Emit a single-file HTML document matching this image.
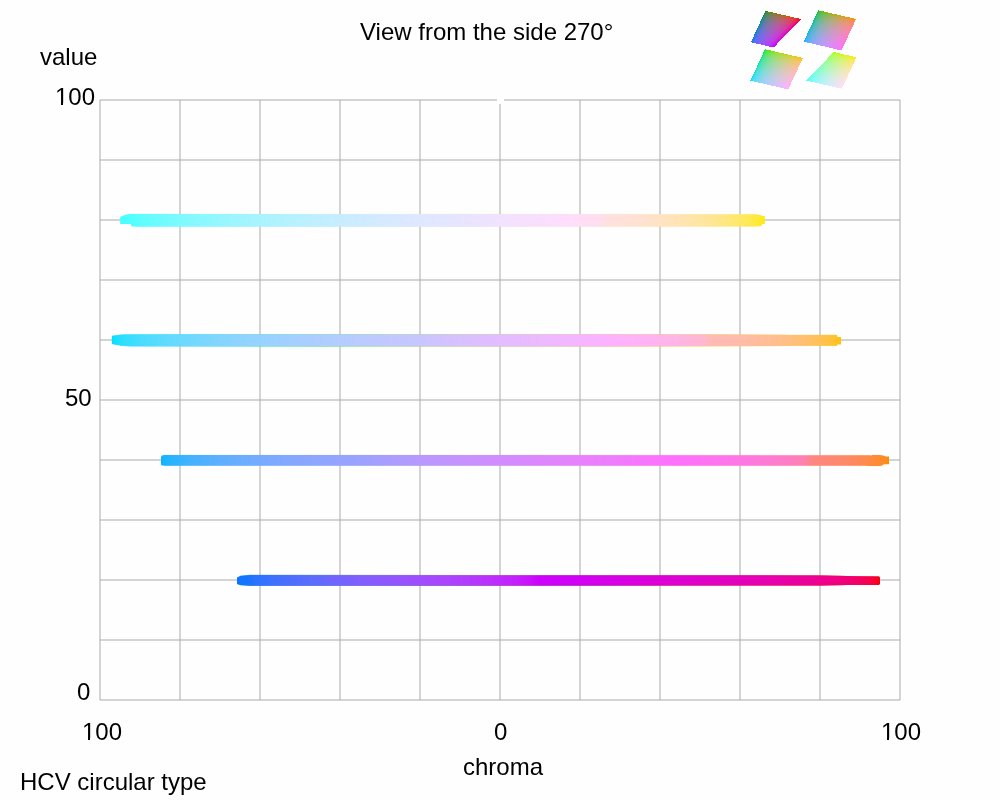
<!DOCTYPE html>
<html><head><meta charset="utf-8"><title>HCV</title>
<style>
html,body{margin:0;padding:0;background:#fefefe;}
body{width:1000px;height:800px;overflow:hidden;position:relative;font-family:"Liberation Sans",sans-serif;color:#000;}
svg{position:absolute;left:0;top:0;}
.c{position:absolute;height:2px;background:#fefefe;}
.t{position:absolute;opacity:0.999;font-size:24px;line-height:24px;white-space:nowrap;}
</style></head><body>
<svg width="1000" height="800" viewBox="0 0 1000 800">
<defs>
<linearGradient id="b0" gradientUnits="userSpaceOnUse" x1="120.20" y1="0" x2="764.80" y2="0"><stop offset="0.0005" stop-color="#45ffff"/><stop offset="0.0408" stop-color="#63fdff"/><stop offset="0.1029" stop-color="#82f9ff"/><stop offset="0.1649" stop-color="#99f6ff"/><stop offset="0.2270" stop-color="#acf3ff"/><stop offset="0.2890" stop-color="#bcf0ff"/><stop offset="0.3511" stop-color="#caecff"/><stop offset="0.4131" stop-color="#d6e9ff"/><stop offset="0.4752" stop-color="#e0e7ff"/><stop offset="0.5186" stop-color="#e5e5ff"/><stop offset="0.5807" stop-color="#f0e2ff"/><stop offset="0.6427" stop-color="#f9dfff"/><stop offset="0.6924" stop-color="#ffddfd"/><stop offset="0.7451" stop-color="#ffdfec"/><stop offset="0.7513" stop-color="#ffdfe7"/><stop offset="0.7529" stop-color="#ffe0e0"/><stop offset="0.8149" stop-color="#ffe2ce"/><stop offset="0.8770" stop-color="#ffe4b0"/><stop offset="0.9235" stop-color="#ffe690"/><stop offset="0.9561" stop-color="#ffe86f"/><stop offset="0.9763" stop-color="#ffe953"/><stop offset="0.9887" stop-color="#ffe938"/><stop offset="0.9949" stop-color="#ffea23"/><stop offset="0.9964" stop-color="#ffea1c"/><stop offset="0.9980" stop-color="#ffea10"/></linearGradient>
<linearGradient id="k0" gradientUnits="userSpaceOnUse" x1="120.20" y1="0" x2="764.80" y2="0"><stop offset="0.0005" stop-color="#45ffff"/><stop offset="0.0625" stop-color="#65ffe5"/><stop offset="0.1246" stop-color="#75ffd3"/><stop offset="0.1866" stop-color="#80ffc2"/><stop offset="0.2487" stop-color="#88ffb2"/><stop offset="0.3107" stop-color="#8fffa3"/><stop offset="0.3728" stop-color="#96ff91"/><stop offset="0.4348" stop-color="#9fff6e"/><stop offset="0.4953" stop-color="#a7ff3a"/><stop offset="0.5140" stop-color="#a9ff16"/><stop offset="0.5186" stop-color="#a9ff00"/><stop offset="0.5807" stop-color="#b6fd00"/><stop offset="0.6427" stop-color="#c4fa00"/><stop offset="0.7048" stop-color="#d1f700"/><stop offset="0.7668" stop-color="#ddf400"/><stop offset="0.8289" stop-color="#e9f100"/><stop offset="0.8909" stop-color="#f4ed00"/><stop offset="0.9530" stop-color="#fbeb00"/><stop offset="0.9980" stop-color="#ffea00"/></linearGradient>
<linearGradient id="b1" gradientUnits="userSpaceOnUse" x1="111.90" y1="0" x2="841.00" y2="0"><stop offset="0.0000" stop-color="#00dfff"/><stop offset="0.0036" stop-color="#13dfff"/><stop offset="0.0145" stop-color="#2bdeff"/><stop offset="0.0351" stop-color="#44ddff"/><stop offset="0.0790" stop-color="#64daff"/><stop offset="0.1339" stop-color="#7ed6ff"/><stop offset="0.1887" stop-color="#93d3ff"/><stop offset="0.2436" stop-color="#a3d0ff"/><stop offset="0.2985" stop-color="#b1cdff"/><stop offset="0.3533" stop-color="#bccaff"/><stop offset="0.4082" stop-color="#c5c7ff"/><stop offset="0.4630" stop-color="#d4c2ff"/><stop offset="0.5179" stop-color="#e0beff"/><stop offset="0.5728" stop-color="#eabaff"/><stop offset="0.6276" stop-color="#f3b7ff"/><stop offset="0.6825" stop-color="#fdb2ff"/><stop offset="0.7236" stop-color="#ffb3f7"/><stop offset="0.7785" stop-color="#ffb5e4"/><stop offset="0.8073" stop-color="#ffb7d3"/><stop offset="0.8155" stop-color="#ffb9c8"/><stop offset="0.8169" stop-color="#ffbaba"/><stop offset="0.8718" stop-color="#ffbca5"/><stop offset="0.9198" stop-color="#ffbe89"/><stop offset="0.9513" stop-color="#ffc06f"/><stop offset="0.9760" stop-color="#ffc150"/><stop offset="0.9897" stop-color="#ffc234"/><stop offset="0.9966" stop-color="#ffc21b"/><stop offset="0.9979" stop-color="#ffc213"/><stop offset="0.9993" stop-color="#ffc205"/></linearGradient>
<linearGradient id="k1" gradientUnits="userSpaceOnUse" x1="111.90" y1="0" x2="841.00" y2="0"><stop offset="0.0000" stop-color="#00dfff"/><stop offset="0.0543" stop-color="#00e1f0"/><stop offset="0.1078" stop-color="#00e2e3"/><stop offset="0.1092" stop-color="#00e4d3"/><stop offset="0.1393" stop-color="#00e6b0"/><stop offset="0.1942" stop-color="#00e988"/><stop offset="0.2491" stop-color="#00eb5c"/><stop offset="0.2847" stop-color="#00ec2e"/><stop offset="0.2943" stop-color="#00ec13"/><stop offset="0.2985" stop-color="#05ec00"/><stop offset="0.3081" stop-color="#25eb00"/><stop offset="0.3451" stop-color="#50e900"/><stop offset="0.3999" stop-color="#72e600"/><stop offset="0.4548" stop-color="#86e300"/><stop offset="0.5097" stop-color="#9ae000"/><stop offset="0.5645" stop-color="#abdc00"/><stop offset="0.6194" stop-color="#bad900"/><stop offset="0.6743" stop-color="#c8d500"/><stop offset="0.7291" stop-color="#d6d100"/><stop offset="0.7840" stop-color="#dfce00"/><stop offset="0.8388" stop-color="#e6cc00"/><stop offset="0.8937" stop-color="#eec900"/><stop offset="0.9486" stop-color="#f7c600"/><stop offset="0.9993" stop-color="#ffc200"/></linearGradient>
<linearGradient id="b2" gradientUnits="userSpaceOnUse" x1="161.00" y1="0" x2="889.00" y2="0"><stop offset="0.0000" stop-color="#02b4ff"/><stop offset="0.0034" stop-color="#16b4ff"/><stop offset="0.0144" stop-color="#2ab3ff"/><stop offset="0.0364" stop-color="#41b2ff"/><stop offset="0.0749" stop-color="#5bafff"/><stop offset="0.1298" stop-color="#74abff"/><stop offset="0.1848" stop-color="#87a7ff"/><stop offset="0.2397" stop-color="#94a4ff"/><stop offset="0.2837" stop-color="#9ea1ff"/><stop offset="0.2905" stop-color="#a3a0ff"/><stop offset="0.3455" stop-color="#b49aff"/><stop offset="0.4004" stop-color="#c394ff"/><stop offset="0.4554" stop-color="#cf8eff"/><stop offset="0.5103" stop-color="#db88ff"/><stop offset="0.5652" stop-color="#e682ff"/><stop offset="0.6202" stop-color="#ef7cff"/><stop offset="0.6751" stop-color="#fa74ff"/><stop offset="0.7109" stop-color="#ff70fd"/><stop offset="0.7658" stop-color="#ff74ee"/><stop offset="0.8207" stop-color="#ff79da"/><stop offset="0.8620" stop-color="#ff7dc4"/><stop offset="0.8812" stop-color="#ff80b1"/><stop offset="0.8880" stop-color="#ff82a4"/><stop offset="0.8894" stop-color="#ff83a0"/><stop offset="0.8908" stop-color="#ff8685"/><stop offset="0.9389" stop-color="#ff8869"/><stop offset="0.9718" stop-color="#ff8a49"/><stop offset="0.9883" stop-color="#ff8b2e"/><stop offset="0.9952" stop-color="#ff8c1a"/><stop offset="0.9979" stop-color="#ff8c0b"/><stop offset="0.9993" stop-color="#ff8c00"/></linearGradient>
<linearGradient id="k2" gradientUnits="userSpaceOnUse" x1="161.00" y1="0" x2="889.00" y2="0"><stop offset="0.0000" stop-color="#00b4ff"/><stop offset="0.0529" stop-color="#00b8ea"/><stop offset="0.1078" stop-color="#00bad5"/><stop offset="0.1628" stop-color="#00bcc3"/><stop offset="0.1806" stop-color="#00bdbd"/><stop offset="0.1820" stop-color="#00beae"/><stop offset="0.2163" stop-color="#00c185"/><stop offset="0.2713" stop-color="#00c450"/><stop offset="0.2988" stop-color="#00c525"/><stop offset="0.3056" stop-color="#00c50c"/><stop offset="0.3084" stop-color="#07c500"/><stop offset="0.3194" stop-color="#27c400"/><stop offset="0.3565" stop-color="#51c100"/><stop offset="0.3990" stop-color="#67bf00"/><stop offset="0.4540" stop-color="#81bb00"/><stop offset="0.5089" stop-color="#95b600"/><stop offset="0.5639" stop-color="#a7b200"/><stop offset="0.6188" stop-color="#b7ad00"/><stop offset="0.6738" stop-color="#c0aa00"/><stop offset="0.7287" stop-color="#cba600"/><stop offset="0.7837" stop-color="#d6a200"/><stop offset="0.8386" stop-color="#e19d00"/><stop offset="0.8935" stop-color="#eb9700"/><stop offset="0.9485" stop-color="#f69200"/><stop offset="0.9993" stop-color="#ff8c00"/></linearGradient>
<linearGradient id="b3" gradientUnits="userSpaceOnUse" x1="237.00" y1="0" x2="880.00" y2="0"><stop offset="0.0000" stop-color="#0575ff"/><stop offset="0.0039" stop-color="#1275ff"/><stop offset="0.0148" stop-color="#1375ff"/><stop offset="0.0288" stop-color="#2873ff"/><stop offset="0.0599" stop-color="#4170ff"/><stop offset="0.1159" stop-color="#5d6bff"/><stop offset="0.1361" stop-color="#6469ff"/><stop offset="0.1392" stop-color="#6a67ff"/><stop offset="0.2014" stop-color="#855dff"/><stop offset="0.2636" stop-color="#9a51ff"/><stop offset="0.3258" stop-color="#ab44ff"/><stop offset="0.3880" stop-color="#ba32ff"/><stop offset="0.4347" stop-color="#c41fff"/><stop offset="0.4565" stop-color="#c910ff"/><stop offset="0.4705" stop-color="#cc00ff"/><stop offset="0.5280" stop-color="#d000f5"/><stop offset="0.5902" stop-color="#d600e6"/><stop offset="0.6524" stop-color="#db00d7"/><stop offset="0.7146" stop-color="#df00cc"/><stop offset="0.7768" stop-color="#e300be"/><stop offset="0.8390" stop-color="#e700ad"/><stop offset="0.9012" stop-color="#ec0094"/><stop offset="0.9417" stop-color="#f0007c"/><stop offset="0.9681" stop-color="#f30062"/><stop offset="0.9837" stop-color="#f6004a"/><stop offset="0.9930" stop-color="#f70030"/><stop offset="0.9977" stop-color="#f80018"/><stop offset="0.9992" stop-color="#f80007"/></linearGradient>
<linearGradient id="k3" gradientUnits="userSpaceOnUse" x1="237.00" y1="0" x2="880.00" y2="0"><stop offset="0.0000" stop-color="#0075fe"/><stop offset="0.0614" stop-color="#007ce3"/><stop offset="0.1236" stop-color="#0082c5"/><stop offset="0.1858" stop-color="#0087a5"/><stop offset="0.2449" stop-color="#008a8a"/><stop offset="0.2465" stop-color="#008b7c"/><stop offset="0.3072" stop-color="#009025"/><stop offset="0.3149" stop-color="#00900b"/><stop offset="0.3180" stop-color="#069000"/><stop offset="0.3289" stop-color="#258f00"/><stop offset="0.3663" stop-color="#498b00"/><stop offset="0.4285" stop-color="#698600"/><stop offset="0.4907" stop-color="#857e00"/><stop offset="0.5529" stop-color="#937a00"/><stop offset="0.6151" stop-color="#a37300"/><stop offset="0.6773" stop-color="#b36b00"/><stop offset="0.7395" stop-color="#c26100"/><stop offset="0.8017" stop-color="#d05600"/><stop offset="0.8639" stop-color="#dd4800"/><stop offset="0.9261" stop-color="#ea3400"/><stop offset="0.9883" stop-color="#f61100"/><stop offset="0.9992" stop-color="#f80100"/></linearGradient>
<linearGradient id="t0r" gradientUnits="userSpaceOnUse" x1="634.311" y1="293.851" x2="668.829" y2="309.842"><stop offset="0.0000" stop-color="#000000"/><stop offset="0.0417" stop-color="#3a0000"/><stop offset="0.0833" stop-color="#520000"/><stop offset="0.1250" stop-color="#630000"/><stop offset="0.1667" stop-color="#710000"/><stop offset="0.2083" stop-color="#7e0000"/><stop offset="0.2500" stop-color="#890000"/><stop offset="0.2917" stop-color="#930000"/><stop offset="0.3333" stop-color="#9c0000"/><stop offset="0.3750" stop-color="#a50000"/><stop offset="0.4167" stop-color="#ad0000"/><stop offset="0.4583" stop-color="#b40000"/><stop offset="0.5000" stop-color="#bc0000"/><stop offset="0.5417" stop-color="#c20000"/><stop offset="0.5833" stop-color="#c90000"/><stop offset="0.6250" stop-color="#cf0000"/><stop offset="0.6667" stop-color="#d50000"/><stop offset="0.7083" stop-color="#db0000"/><stop offset="0.7500" stop-color="#e10000"/><stop offset="0.7917" stop-color="#e60000"/><stop offset="0.8333" stop-color="#eb0000"/><stop offset="0.8750" stop-color="#f00000"/><stop offset="0.9167" stop-color="#f50000"/><stop offset="0.9583" stop-color="#fa0000"/><stop offset="1.0000" stop-color="#ff0000"/></linearGradient>
<linearGradient id="t0g" gradientUnits="userSpaceOnUse" x1="425.087" y1="409.407" x2="344.287" y2="331.588"><stop offset="0.0000" stop-color="#000000"/><stop offset="0.0417" stop-color="#003a00"/><stop offset="0.0833" stop-color="#005200"/><stop offset="0.1250" stop-color="#006300"/><stop offset="0.1667" stop-color="#007100"/><stop offset="0.2083" stop-color="#007e00"/><stop offset="0.2500" stop-color="#008900"/><stop offset="0.2917" stop-color="#009300"/><stop offset="0.3333" stop-color="#009c00"/><stop offset="0.3750" stop-color="#00a500"/><stop offset="0.4167" stop-color="#00ad00"/><stop offset="0.4583" stop-color="#00b400"/><stop offset="0.5000" stop-color="#00bc00"/><stop offset="0.5417" stop-color="#00c200"/><stop offset="0.5833" stop-color="#00c900"/><stop offset="0.6250" stop-color="#00cf00"/><stop offset="0.6667" stop-color="#00d500"/><stop offset="0.7083" stop-color="#00db00"/><stop offset="0.7500" stop-color="#00e100"/><stop offset="0.7917" stop-color="#00e600"/><stop offset="0.8333" stop-color="#00eb00"/><stop offset="0.8750" stop-color="#00f000"/><stop offset="0.9167" stop-color="#00f500"/><stop offset="0.9583" stop-color="#00fa00"/><stop offset="1.0000" stop-color="#00ff00"/></linearGradient>
<linearGradient id="t0b" gradientUnits="userSpaceOnUse" x1="36.373" y1="-157.532" x2="28.740" y2="-124.475"><stop offset="0.0000" stop-color="#000000"/><stop offset="0.0417" stop-color="#00003a"/><stop offset="0.0833" stop-color="#000052"/><stop offset="0.1250" stop-color="#000063"/><stop offset="0.1667" stop-color="#000071"/><stop offset="0.2083" stop-color="#00007e"/><stop offset="0.2500" stop-color="#000089"/><stop offset="0.2917" stop-color="#000093"/><stop offset="0.3333" stop-color="#00009c"/><stop offset="0.3750" stop-color="#0000a5"/><stop offset="0.4167" stop-color="#0000ad"/><stop offset="0.4583" stop-color="#0000b4"/><stop offset="0.5000" stop-color="#0000bc"/><stop offset="0.5417" stop-color="#0000c2"/><stop offset="0.5833" stop-color="#0000c9"/><stop offset="0.6250" stop-color="#0000cf"/><stop offset="0.6667" stop-color="#0000d5"/><stop offset="0.7083" stop-color="#0000db"/><stop offset="0.7500" stop-color="#0000e1"/><stop offset="0.7917" stop-color="#0000e6"/><stop offset="0.8333" stop-color="#0000eb"/><stop offset="0.8750" stop-color="#0000f0"/><stop offset="0.9167" stop-color="#0000f5"/><stop offset="0.9583" stop-color="#0000fa"/><stop offset="1.0000" stop-color="#0000ff"/></linearGradient>
<linearGradient id="t1r" gradientUnits="userSpaceOnUse" x1="677.581" y1="313.897" x2="712.099" y2="329.888"><stop offset="0.0000" stop-color="#000000"/><stop offset="0.0417" stop-color="#3a0000"/><stop offset="0.0833" stop-color="#520000"/><stop offset="0.1250" stop-color="#630000"/><stop offset="0.1667" stop-color="#710000"/><stop offset="0.2083" stop-color="#7e0000"/><stop offset="0.2500" stop-color="#890000"/><stop offset="0.2917" stop-color="#930000"/><stop offset="0.3333" stop-color="#9c0000"/><stop offset="0.3750" stop-color="#a50000"/><stop offset="0.4167" stop-color="#ad0000"/><stop offset="0.4583" stop-color="#b40000"/><stop offset="0.5000" stop-color="#bc0000"/><stop offset="0.5417" stop-color="#c20000"/><stop offset="0.5833" stop-color="#c90000"/><stop offset="0.6250" stop-color="#cf0000"/><stop offset="0.6667" stop-color="#d50000"/><stop offset="0.7083" stop-color="#db0000"/><stop offset="0.7500" stop-color="#e10000"/><stop offset="0.7917" stop-color="#e60000"/><stop offset="0.8333" stop-color="#eb0000"/><stop offset="0.8750" stop-color="#f00000"/><stop offset="0.9167" stop-color="#f50000"/><stop offset="0.9583" stop-color="#fa0000"/><stop offset="1.0000" stop-color="#ff0000"/></linearGradient>
<linearGradient id="t1g" gradientUnits="userSpaceOnUse" x1="474.804" y1="457.291" x2="394.005" y2="379.472"><stop offset="0.0000" stop-color="#000000"/><stop offset="0.0417" stop-color="#003a00"/><stop offset="0.0833" stop-color="#005200"/><stop offset="0.1250" stop-color="#006300"/><stop offset="0.1667" stop-color="#007100"/><stop offset="0.2083" stop-color="#007e00"/><stop offset="0.2500" stop-color="#008900"/><stop offset="0.2917" stop-color="#009300"/><stop offset="0.3333" stop-color="#009c00"/><stop offset="0.3750" stop-color="#00a500"/><stop offset="0.4167" stop-color="#00ad00"/><stop offset="0.4583" stop-color="#00b400"/><stop offset="0.5000" stop-color="#00bc00"/><stop offset="0.5417" stop-color="#00c200"/><stop offset="0.5833" stop-color="#00c900"/><stop offset="0.6250" stop-color="#00cf00"/><stop offset="0.6667" stop-color="#00d500"/><stop offset="0.7083" stop-color="#00db00"/><stop offset="0.7500" stop-color="#00e100"/><stop offset="0.7917" stop-color="#00e600"/><stop offset="0.8333" stop-color="#00eb00"/><stop offset="0.8750" stop-color="#00f000"/><stop offset="0.9167" stop-color="#00f500"/><stop offset="0.9583" stop-color="#00fa00"/><stop offset="1.0000" stop-color="#00ff00"/></linearGradient>
<linearGradient id="t1b" gradientUnits="userSpaceOnUse" x1="39.167" y1="-169.633" x2="31.534" y2="-136.576"><stop offset="0.0000" stop-color="#000000"/><stop offset="0.0417" stop-color="#00003a"/><stop offset="0.0833" stop-color="#000052"/><stop offset="0.1250" stop-color="#000063"/><stop offset="0.1667" stop-color="#000071"/><stop offset="0.2083" stop-color="#00007e"/><stop offset="0.2500" stop-color="#000089"/><stop offset="0.2917" stop-color="#000093"/><stop offset="0.3333" stop-color="#00009c"/><stop offset="0.3750" stop-color="#0000a5"/><stop offset="0.4167" stop-color="#0000ad"/><stop offset="0.4583" stop-color="#0000b4"/><stop offset="0.5000" stop-color="#0000bc"/><stop offset="0.5417" stop-color="#0000c2"/><stop offset="0.5833" stop-color="#0000c9"/><stop offset="0.6250" stop-color="#0000cf"/><stop offset="0.6667" stop-color="#0000d5"/><stop offset="0.7083" stop-color="#0000db"/><stop offset="0.7500" stop-color="#0000e1"/><stop offset="0.7917" stop-color="#0000e6"/><stop offset="0.8333" stop-color="#0000eb"/><stop offset="0.8750" stop-color="#0000f0"/><stop offset="0.9167" stop-color="#0000f5"/><stop offset="0.9583" stop-color="#0000fa"/><stop offset="1.0000" stop-color="#0000ff"/></linearGradient>
<linearGradient id="t2r" gradientUnits="userSpaceOnUse" x1="648.595" y1="300.469" x2="683.114" y2="316.460"><stop offset="0.0000" stop-color="#000000"/><stop offset="0.0417" stop-color="#3a0000"/><stop offset="0.0833" stop-color="#520000"/><stop offset="0.1250" stop-color="#630000"/><stop offset="0.1667" stop-color="#710000"/><stop offset="0.2083" stop-color="#7e0000"/><stop offset="0.2500" stop-color="#890000"/><stop offset="0.2917" stop-color="#930000"/><stop offset="0.3333" stop-color="#9c0000"/><stop offset="0.3750" stop-color="#a50000"/><stop offset="0.4167" stop-color="#ad0000"/><stop offset="0.4583" stop-color="#b40000"/><stop offset="0.5000" stop-color="#bc0000"/><stop offset="0.5417" stop-color="#c20000"/><stop offset="0.5833" stop-color="#c90000"/><stop offset="0.6250" stop-color="#cf0000"/><stop offset="0.6667" stop-color="#d50000"/><stop offset="0.7083" stop-color="#db0000"/><stop offset="0.7500" stop-color="#e10000"/><stop offset="0.7917" stop-color="#e60000"/><stop offset="0.8333" stop-color="#eb0000"/><stop offset="0.8750" stop-color="#f00000"/><stop offset="0.9167" stop-color="#f50000"/><stop offset="0.9583" stop-color="#fa0000"/><stop offset="1.0000" stop-color="#ff0000"/></linearGradient>
<linearGradient id="t2g" gradientUnits="userSpaceOnUse" x1="489.235" y1="471.190" x2="408.436" y2="393.370"><stop offset="0.0000" stop-color="#000000"/><stop offset="0.0417" stop-color="#003a00"/><stop offset="0.0833" stop-color="#005200"/><stop offset="0.1250" stop-color="#006300"/><stop offset="0.1667" stop-color="#007100"/><stop offset="0.2083" stop-color="#007e00"/><stop offset="0.2500" stop-color="#008900"/><stop offset="0.2917" stop-color="#009300"/><stop offset="0.3333" stop-color="#009c00"/><stop offset="0.3750" stop-color="#00a500"/><stop offset="0.4167" stop-color="#00ad00"/><stop offset="0.4583" stop-color="#00b400"/><stop offset="0.5000" stop-color="#00bc00"/><stop offset="0.5417" stop-color="#00c200"/><stop offset="0.5833" stop-color="#00c900"/><stop offset="0.6250" stop-color="#00cf00"/><stop offset="0.6667" stop-color="#00d500"/><stop offset="0.7083" stop-color="#00db00"/><stop offset="0.7500" stop-color="#00e100"/><stop offset="0.7917" stop-color="#00e600"/><stop offset="0.8333" stop-color="#00eb00"/><stop offset="0.8750" stop-color="#00f000"/><stop offset="0.9167" stop-color="#00f500"/><stop offset="0.9583" stop-color="#00fa00"/><stop offset="1.0000" stop-color="#00ff00"/></linearGradient>
<linearGradient id="t2b" gradientUnits="userSpaceOnUse" x1="27.934" y1="-120.981" x2="20.301" y2="-87.924"><stop offset="0.0000" stop-color="#000000"/><stop offset="0.0417" stop-color="#00003a"/><stop offset="0.0833" stop-color="#000052"/><stop offset="0.1250" stop-color="#000063"/><stop offset="0.1667" stop-color="#000071"/><stop offset="0.2083" stop-color="#00007e"/><stop offset="0.2500" stop-color="#000089"/><stop offset="0.2917" stop-color="#000093"/><stop offset="0.3333" stop-color="#00009c"/><stop offset="0.3750" stop-color="#0000a5"/><stop offset="0.4167" stop-color="#0000ad"/><stop offset="0.4583" stop-color="#0000b4"/><stop offset="0.5000" stop-color="#0000bc"/><stop offset="0.5417" stop-color="#0000c2"/><stop offset="0.5833" stop-color="#0000c9"/><stop offset="0.6250" stop-color="#0000cf"/><stop offset="0.6667" stop-color="#0000d5"/><stop offset="0.7083" stop-color="#0000db"/><stop offset="0.7500" stop-color="#0000e1"/><stop offset="0.7917" stop-color="#0000e6"/><stop offset="0.8333" stop-color="#0000eb"/><stop offset="0.8750" stop-color="#0000f0"/><stop offset="0.9167" stop-color="#0000f5"/><stop offset="0.9583" stop-color="#0000fa"/><stop offset="1.0000" stop-color="#0000ff"/></linearGradient>
<linearGradient id="t3r" gradientUnits="userSpaceOnUse" x1="692.475" y1="320.797" x2="726.993" y2="336.788"><stop offset="0.0000" stop-color="#000000"/><stop offset="0.0417" stop-color="#3a0000"/><stop offset="0.0833" stop-color="#520000"/><stop offset="0.1250" stop-color="#630000"/><stop offset="0.1667" stop-color="#710000"/><stop offset="0.2083" stop-color="#7e0000"/><stop offset="0.2500" stop-color="#890000"/><stop offset="0.2917" stop-color="#930000"/><stop offset="0.3333" stop-color="#9c0000"/><stop offset="0.3750" stop-color="#a50000"/><stop offset="0.4167" stop-color="#ad0000"/><stop offset="0.4583" stop-color="#b40000"/><stop offset="0.5000" stop-color="#bc0000"/><stop offset="0.5417" stop-color="#c20000"/><stop offset="0.5833" stop-color="#c90000"/><stop offset="0.6250" stop-color="#cf0000"/><stop offset="0.6667" stop-color="#d50000"/><stop offset="0.7083" stop-color="#db0000"/><stop offset="0.7500" stop-color="#e10000"/><stop offset="0.7917" stop-color="#e60000"/><stop offset="0.8333" stop-color="#eb0000"/><stop offset="0.8750" stop-color="#f00000"/><stop offset="0.9167" stop-color="#f50000"/><stop offset="0.9583" stop-color="#fa0000"/><stop offset="1.0000" stop-color="#ff0000"/></linearGradient>
<linearGradient id="t3g" gradientUnits="userSpaceOnUse" x1="539.317" y1="519.424" x2="458.517" y2="441.605"><stop offset="0.0000" stop-color="#000000"/><stop offset="0.0417" stop-color="#003a00"/><stop offset="0.0833" stop-color="#005200"/><stop offset="0.1250" stop-color="#006300"/><stop offset="0.1667" stop-color="#007100"/><stop offset="0.2083" stop-color="#007e00"/><stop offset="0.2500" stop-color="#008900"/><stop offset="0.2917" stop-color="#009300"/><stop offset="0.3333" stop-color="#009c00"/><stop offset="0.3750" stop-color="#00a500"/><stop offset="0.4167" stop-color="#00ad00"/><stop offset="0.4583" stop-color="#00b400"/><stop offset="0.5000" stop-color="#00bc00"/><stop offset="0.5417" stop-color="#00c200"/><stop offset="0.5833" stop-color="#00c900"/><stop offset="0.6250" stop-color="#00cf00"/><stop offset="0.6667" stop-color="#00d500"/><stop offset="0.7083" stop-color="#00db00"/><stop offset="0.7500" stop-color="#00e100"/><stop offset="0.7917" stop-color="#00e600"/><stop offset="0.8333" stop-color="#00eb00"/><stop offset="0.8750" stop-color="#00f000"/><stop offset="0.9167" stop-color="#00f500"/><stop offset="0.9583" stop-color="#00fa00"/><stop offset="1.0000" stop-color="#00ff00"/></linearGradient>
<linearGradient id="t3b" gradientUnits="userSpaceOnUse" x1="30.783" y1="-133.323" x2="23.150" y2="-100.266"><stop offset="0.0000" stop-color="#000000"/><stop offset="0.0417" stop-color="#00003a"/><stop offset="0.0833" stop-color="#000052"/><stop offset="0.1250" stop-color="#000063"/><stop offset="0.1667" stop-color="#000071"/><stop offset="0.2083" stop-color="#00007e"/><stop offset="0.2500" stop-color="#000089"/><stop offset="0.2917" stop-color="#000093"/><stop offset="0.3333" stop-color="#00009c"/><stop offset="0.3750" stop-color="#0000a5"/><stop offset="0.4167" stop-color="#0000ad"/><stop offset="0.4583" stop-color="#0000b4"/><stop offset="0.5000" stop-color="#0000bc"/><stop offset="0.5417" stop-color="#0000c2"/><stop offset="0.5833" stop-color="#0000c9"/><stop offset="0.6250" stop-color="#0000cf"/><stop offset="0.6667" stop-color="#0000d5"/><stop offset="0.7083" stop-color="#0000db"/><stop offset="0.7500" stop-color="#0000e1"/><stop offset="0.7917" stop-color="#0000e6"/><stop offset="0.8333" stop-color="#0000eb"/><stop offset="0.8750" stop-color="#0000f0"/><stop offset="0.9167" stop-color="#0000f5"/><stop offset="0.9583" stop-color="#0000fa"/><stop offset="1.0000" stop-color="#0000ff"/></linearGradient>
</defs>
<path d="M100 100V700M180 100V700M260 100V700M340 100V700M420 100V700M500 100V700M580 100V700M660 100V700M740 100V700M820 100V700M900 100V700" stroke="#aaaaaa" stroke-opacity="0.5" stroke-width="2" fill="none"/><path d="M100 100H900M100 160H900M100 220H900M100 280H900M100 340H900M100 400H900M100 460H900M100 520H900M100 580H900M100 640H900M100 700H900" stroke="#aaaaaa" stroke-opacity="0.5" stroke-width="2" fill="none"/>
<polygon fill="url(#k0)" fill-opacity="0.2" points="125.00,214.60 130.00,213.70 755.00,213.90 760.00,214.70 761.50,226.30 755.00,226.90 138.00,227.10 131.50,226.50"/>
<polygon fill="url(#b0)" points="120.2,216.7 121.5,216.3 125.0,214.9 130.0,214.0 755.0,214.2 760.0,215.0 763.0,216.0 764.8,216.3 764.8,223.9 762.0,224.0 761.5,226.0 755.0,226.6 138.0,226.8 131.5,226.2 131.0,224.0 120.2,223.9"/>
<polygon fill="url(#k1)" fill-opacity="0.6" points="118.00,334.70 125.00,334.20 200.00,333.90 600.00,334.00 720.00,334.30 790.00,334.70 836.80,334.70 837.00,346.10 790.00,346.10 720.00,346.40 600.00,346.80 130.00,346.60 120.00,345.80"/>
<polygon fill="url(#b1)" points="111.9,336.1 113.0,335.6 118.0,335.0 125.0,334.5 200.0,334.2 600.0,334.3 720.0,334.6 790.0,335.0 836.8,335.0 837.5,337.0 841.0,337.0 841.0,344.5 837.5,344.5 837.0,345.8 790.0,345.8 720.0,346.1 600.0,346.5 130.0,346.3 120.0,345.5 114.0,344.5 111.9,343.9"/>
<polygon fill="url(#k2)" fill-opacity="0.2" points="164.00,454.70 870.00,454.90 871.00,455.40 872.00,454.70 880.00,454.70 884.00,455.50 882.00,465.80 880.00,466.30 868.00,466.30 866.00,466.00 165.00,466.10"/>
<polygon fill="url(#b2)" points="161.0,457.0 162.0,455.5 164.0,455.0 870.0,455.2 871.0,455.7 872.0,455.0 880.0,455.0 884.0,455.8 886.0,456.4 889.0,456.4 889.0,464.2 884.0,464.3 882.0,465.5 880.0,466.0 868.0,466.0 866.0,465.7 165.0,465.8 162.0,465.5 161.0,464.5"/>
<polygon fill="url(#k3)" fill-opacity="0.6" points="240.00,575.70 250.00,574.70 820.00,575.10 845.00,575.70 845.00,585.30 820.00,585.90 250.00,586.00 240.00,585.30"/>
<polygon fill="url(#b3)" points="237.0,577.5 238.0,577.0 240.0,576.0 250.0,575.0 820.0,575.4 845.0,576.0 879.0,576.2 880.0,577.5 880.0,584.0 879.0,584.9 845.0,585.0 820.0,585.6 250.0,585.7 240.0,585.0 238.0,584.6 237.0,584.0"/>
<rect x="497" y="97" width="7" height="7" fill="#ffffff"/>
<g shape-rendering="crispEdges">
<g style="isolation:isolate"><polygon points="773.63,47.51 801.07,19.03 765.44,10.80 750.86,42.26" fill="#000"/><polygon points="773.63,47.51 801.07,19.03 765.44,10.80 750.86,42.26" fill="url(#t0r)" style="mix-blend-mode:screen"/><polygon points="773.63,47.51 801.07,19.03 765.44,10.80 750.86,42.26" fill="url(#t0g)" style="mix-blend-mode:screen"/><polygon points="773.63,47.51 801.07,19.03 765.44,10.80 750.86,42.26" fill="url(#t0b)" style="mix-blend-mode:screen"/></g>
<g style="isolation:isolate"><polygon points="841.55,50.45 856.12,19.00 818.25,10.25 803.68,41.70" fill="#000"/><polygon points="841.55,50.45 856.12,19.00 818.25,10.25 803.68,41.70" fill="url(#t1r)" style="mix-blend-mode:screen"/><polygon points="841.55,50.45 856.12,19.00 818.25,10.25 803.68,41.70" fill="url(#t1g)" style="mix-blend-mode:screen"/><polygon points="841.55,50.45 856.12,19.00 818.25,10.25 803.68,41.70" fill="url(#t1b)" style="mix-blend-mode:screen"/></g>
<g style="isolation:isolate"><polygon points="788.30,89.40 802.87,57.95 765.00,49.20 750.43,80.65" fill="#000"/><polygon points="788.30,89.40 802.87,57.95 765.00,49.20 750.43,80.65" fill="url(#t2r)" style="mix-blend-mode:screen"/><polygon points="788.30,89.40 802.87,57.95 765.00,49.20 750.43,80.65" fill="url(#t2g)" style="mix-blend-mode:screen"/><polygon points="788.30,89.40 802.87,57.95 765.00,49.20 750.43,80.65" fill="url(#t2b)" style="mix-blend-mode:screen"/></g>
<g style="isolation:isolate"><polygon points="841.89,88.77 856.46,57.32 833.69,52.06 806.26,80.55" fill="#000"/><polygon points="841.89,88.77 856.46,57.32 833.69,52.06 806.26,80.55" fill="url(#t3r)" style="mix-blend-mode:screen"/><polygon points="841.89,88.77 856.46,57.32 833.69,52.06 806.26,80.55" fill="url(#t3g)" style="mix-blend-mode:screen"/><polygon points="841.89,88.77 856.46,57.32 833.69,52.06 806.26,80.55" fill="url(#t3b)" style="mix-blend-mode:screen"/></g>
</g>
</svg>
<div class="t" style="left:360px;top:20px">View from the side 270°</div>
<div class="t" style="left:40px;top:45px">value</div>
<div class="t" style="left:55px;top:85px">100</div>
<div class="t" style="left:65px;top:386px">50</div>
<div class="t" style="left:77px;top:680px">0</div>
<div class="t" style="left:82px;top:720px">100</div>
<div class="t" style="left:494px;top:720px">0</div>
<div class="t" style="left:881px;top:720px">100</div>
<div class="t" style="left:463px;top:755px">chroma</div>
<div class="t" style="left:20px;top:770px">HCV circular type</div>
<div class="c" style="left:55.5px;top:103px;width:5.5px"></div><div class="c" style="left:63px;top:103px;width:5.5px"></div>
<div class="c" style="left:82.5px;top:738px;width:5.5px"></div><div class="c" style="left:90px;top:738px;width:5.5px"></div>
<div class="c" style="left:881.5px;top:738px;width:5.5px"></div><div class="c" style="left:889px;top:738px;width:5.5px"></div>
</body></html>
